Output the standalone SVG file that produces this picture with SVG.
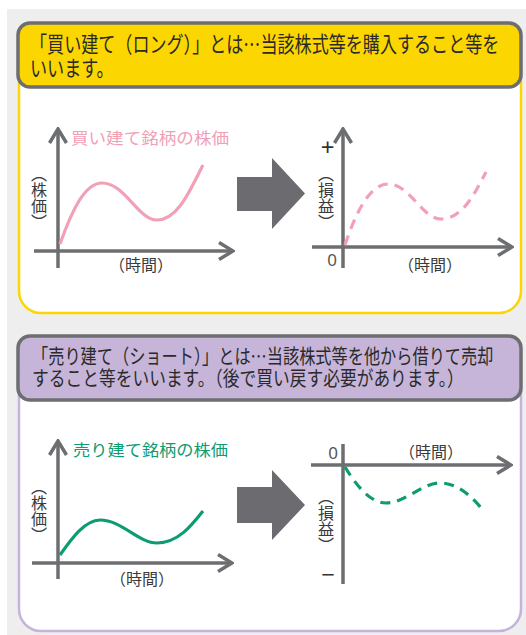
<svg xmlns="http://www.w3.org/2000/svg" width="526" height="635" viewBox="0 0 526 635">
<style>
text{font-family:"Noto Sans CJK JP","Noto Sans",sans-serif;}
.hdr{fill:#2a2a2a;}
.ax{stroke:#6d6e71;stroke-width:3.5;fill:none;}
.lbl{font-size:16px;fill:#3a3a3a;}
.vt{font-size:16px;fill:#3a3a3a;writing-mode:vertical-rl;}
.num{font-family:"Noto Sans","Noto Sans CJK JP",sans-serif;}
.pink{stroke:#f2a0b6;stroke-width:3.2;fill:none;}
.green{stroke:#0d9c72;stroke-width:3.2;fill:none;}
.dash{stroke-dasharray:10 7;}
.big{fill:#6b6b70;}
</style>
<defs>
<marker id="ah" viewBox="-16 -10 18 20" refX="0" refY="0" markerWidth="18" markerHeight="20" markerUnits="userSpaceOnUse" orient="auto">
<path d="M-14,-8.5 L0,0 L-14,8.5" fill="none" stroke="#6d6e71" stroke-width="3.5"/>
</marker>
</defs>
<rect x="7" y="9" width="519" height="626" fill="#eeeeee"/>

<g id="long-panel">
<rect x="19" y="60" width="502" height="253" rx="22" fill="#fff" stroke="#fcd600" stroke-width="2.5"/>
<rect x="18" y="23" width="503" height="64" rx="12" fill="#fcd600" stroke="#6d6e71" stroke-width="3.5"/>
<text class="hdr" font-size="22" transform="translate(30,52) scale(0.776,1)">「買い建て（ロング）」とは…当該株式等を購入すること等を</text>
<text class="hdr" font-size="22" transform="translate(30,76) scale(0.776,1)">いいます。</text>
</g>

<g id="short-panel">
<rect x="19" y="370" width="502" height="261" rx="22" fill="#fff" stroke="#c5b3da" stroke-width="2.5"/>
<rect x="18" y="336" width="503" height="64" rx="12" fill="#c6b5d9" stroke="#6d6e71" stroke-width="3.5"/>
<text class="hdr" font-size="20.5" transform="translate(32,364) scale(0.79,1)">「売り建て（ショート）」とは…当該株式等を他から借りて売却</text>
<text class="hdr" font-size="20.5" transform="translate(32,386) scale(0.817,1)">すること等をいいます。（後で買い戻す必要があります。）</text>
</g>

<g id="connectors">
<line class="ax" x1="58" y1="268" x2="58" y2="129" marker-end="url(#ah)"/>
<line class="ax" x1="34" y1="251" x2="233" y2="251" marker-end="url(#ah)"/>
<line class="ax" x1="343" y1="268" x2="343" y2="129" marker-end="url(#ah)"/>
<line class="ax" x1="312" y1="247" x2="512" y2="247" marker-end="url(#ah)"/>
<line class="ax" x1="58" y1="579" x2="58" y2="441" marker-end="url(#ah)"/>
<line class="ax" x1="32" y1="563" x2="232" y2="563" marker-end="url(#ah)"/>
<line class="ax" x1="343" y1="584" x2="343" y2="444"/>
<line class="ax" x1="311" y1="465" x2="511" y2="465" marker-end="url(#ah)"/>
<polygon class="big" points="237,177 272,177 272,158 305,193.5 272,229 272,211 237,211"/>
<polygon class="big" points="237,487 272,487 272,470 305,505 272,540 272,523 237,523"/>
</g>

<g id="long-chart">
<path class="pink" d="M60,244 C72,210 85,183 102,183 C125,183 138,220 157,220 C178,220 190,190 203,165"/>
<text x="71" y="144" font-size="16" fill="#f2a0b6" textLength="158" lengthAdjust="spacingAndGlyphs">買い建て銘柄の株価</text>
<text class="vt" x="39" y="166">（株価）</text>
<text class="lbl" x="141" y="271" text-anchor="middle">（時間）</text>
</g>

<g id="long-result">
<path class="pink dash" d="M345,245 C356,212 370,184 388,184 C410,184 422,219 441,219 C462,219 474,195 486,172"/>
<text class="num" x="327.5" y="156" text-anchor="middle" font-size="24" fill="#333">+</text>
<text class="vt" x="326" y="166">（損益）</text>
<text class="num" x="332" y="266" text-anchor="middle" font-size="17" fill="#555">0</text>
<text class="lbl" x="430" y="271" text-anchor="middle">（時間）</text>
</g>

<g id="short-chart">
<path class="green" d="M60,555 C72,538 85,520 100,520 C122,520 138,543 157,543 C178,543 192,525 203,511"/>
<text x="73" y="456" font-size="16" fill="#0d9c72" textLength="155" lengthAdjust="spacingAndGlyphs">売り建て銘柄の株価</text>
<text class="vt" x="39" y="479">（株価）</text>
<text class="lbl" x="142" y="585" text-anchor="middle">（時間）</text>
</g>

<g id="short-result">
<path class="green dash" d="M345,467 C356,485 370,503 386,503 C405,503 422,483 440,483 C458,483 472,497 482,509"/>
<text class="num" x="333" y="459" text-anchor="middle" font-size="17" fill="#555">0</text>
<text class="lbl" x="431" y="458" text-anchor="middle">（時間）</text>
<text class="vt" x="326" y="489">（損益）</text>
<text class="num" x="328" y="583" text-anchor="middle" font-size="24" fill="#333">−</text>
</g>
</svg>
